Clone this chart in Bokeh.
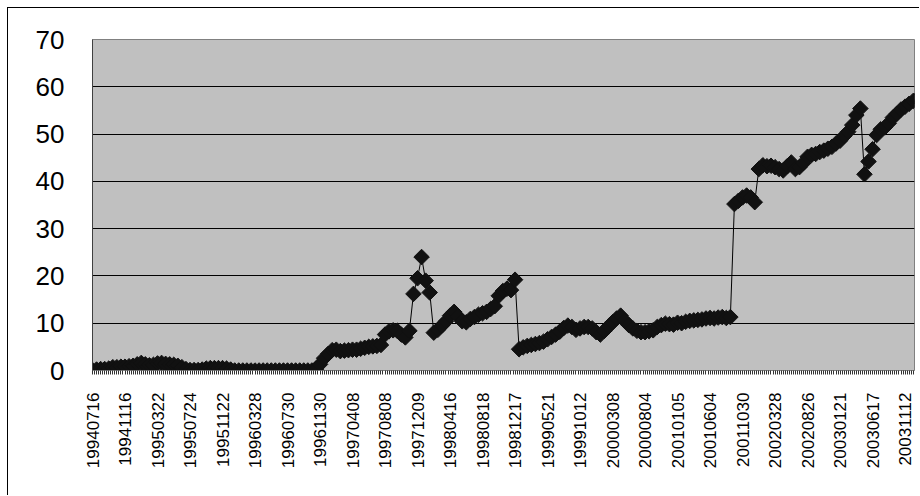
import numpy as np
from bokeh.plotting import figure
from bokeh.models import Range1d, FixedTicker, ColumnDataSource
from bokeh.embed import file_html
from bokeh.resources import INLINE

# Category labels shown on the x axis (one every label step)
date_labels = [
    "19940716", "19941116", "19950322", "19950724", "19951122", "19960328",
    "19960730", "19961130", "19970408", "19970808", "19971209", "19980416",
    "19980818", "19981217", "19990521", "19991012", "20000308", "20000804",
    "20010105", "20010604", "20011030", "20020328", "20020826", "20030121",
    "20030617", "20031112",
]

# Series values, 8 samples per label step
values = [
    0.1, 0.2, 0.3, 0.3, 0.4, 0.7, 0.7, 0.8, 0.8, 0.9,
    1.0, 1.3, 1.6, 1.3, 1.1, 1.2, 1.5, 1.6, 1.4, 1.3,
    1.2, 1.0, 0.7, 0.3, 0.1, 0.1, 0.1, 0.2, 0.4, 0.5,
    0.5, 0.5, 0.5, 0.4, 0.2, 0.0, 0.0, 0.0, 0.0, 0.0,
    0.0, 0.0, 0.0, 0.0, 0.0, 0.0, 0.0, 0.0, 0.0, 0.0,
    0.0, 0.0, 0.0, 0.0, 0.0, 0.3, 1.3, 2.6, 3.5, 4.3,
    4.4, 4.1, 4.2, 4.3, 4.4, 4.4, 4.6, 4.8, 5.0, 5.1,
    5.2, 5.4, 7.6, 8.3, 8.5, 8.4, 7.6, 7.0, 8.4, 16.2,
    19.5, 24.0, 19.0, 16.5, 8.0, 8.6, 9.5, 10.4, 11.6, 12.4,
    11.4, 10.4, 10.2, 10.9, 11.3, 11.8, 12.1, 12.4, 13.0, 13.6,
    15.8, 16.8, 17.3, 17.0, 19.2, 4.5, 4.9, 5.2, 5.4, 5.6,
    5.8, 6.1, 6.6, 7.1, 7.6, 8.2, 9.0, 9.5, 9.2, 8.6,
    8.9, 9.2, 9.2, 8.9, 8.1, 7.6, 8.4, 9.3, 10.2, 11.0,
    11.6, 10.5, 9.6, 8.9, 8.4, 8.1, 8.1, 8.3, 8.5, 9.2,
    9.6, 9.9, 9.8, 9.7, 10.1, 10.0, 10.3, 10.5, 10.6, 10.7,
    10.8, 11.0, 11.1, 11.0, 11.2, 11.3, 11.1, 11.3, 35.2, 35.9,
    36.6, 37.0, 36.6, 35.6, 42.6, 43.4, 43.2, 43.3, 43.0, 42.6,
    42.3, 43.2, 44.0, 42.6, 43.0, 43.9, 45.2, 45.6, 45.8, 46.2,
    46.5, 46.9, 47.3, 48.0, 48.6, 49.6, 50.5, 51.9, 54.0, 55.4,
    41.5, 44.2, 46.8, 49.8, 51.0, 51.4, 52.3, 53.5, 54.3, 55.2,
    55.8, 56.4, 57.0, 57.5,
]

y_ticks = [0, 10, 20, 30, 40, 50, 60, 70]

samples_per_label = 8
x = np.arange(len(values)) / samples_per_label
src = ColumnDataSource(data=dict(x=x, y=values))

p = figure(
    width=912, height=488,
    x_range=Range1d(0, 25.29), y_range=Range1d(0, 70),
    output_backend="svg", toolbar_location=None,
    min_border_left=84, min_border_right=6, min_border_top=31, min_border_bottom=126,
)
# Outer chart-area border (left and top edges visible in the window)
p.margin = (7, 0, 0, 7)
p.styles = {"border-left": "1px solid #000000", "border-top": "1px solid #000000"}

p.background_fill_color = "#C0C0C0"
p.border_fill_color = "white"
p.outline_line_color = "#808080"
p.outline_line_width = 1

# Series: thin line with large diamonds
p.line("x", "y", source=src, line_color="#000000", line_width=1)
p.scatter("x", "y", source=src, marker="square", size=11, angle=np.pi / 4,
          fill_color="#111111", line_color="#111111")

# Grid
p.xgrid.visible = False
p.ygrid.grid_line_color = "#000000"
p.ygrid.grid_line_width = 1

# Y axis
p.yaxis.ticker = FixedTicker(ticks=y_ticks)
p.yaxis.major_label_text_font = "Liberation Sans"
p.yaxis.major_label_text_font_size = "26px"
p.yaxis.major_label_text_color = "#000000"
p.yaxis.major_tick_out = 0
p.yaxis.major_tick_in = 0
p.yaxis.minor_tick_out = 0
p.yaxis.minor_tick_in = 0
p.yaxis.major_label_standoff = 28
p.yaxis.axis_line_color = "#404040"

# X axis: one tick per category step, labels on every label step
steps = 16
tick_pos = [k / steps for k in range(int(25.29 * steps) + 1)]
overrides = {t: "" for t in tick_pos}
for i, lab in enumerate(date_labels):
    overrides[float(i)] = lab
p.xaxis.ticker = FixedTicker(ticks=tick_pos, minor_ticks=[])
p.xaxis.major_label_overrides = overrides
p.xaxis.major_label_orientation = np.pi / 2
p.xaxis.major_label_text_font = "Liberation Sans"
p.xaxis.major_label_text_font_size = "17px"
p.xaxis.major_label_text_color = "#000000"
p.xaxis.major_label_standoff = 18
p.xaxis.major_tick_out = 4
p.xaxis.major_tick_in = 0
p.xaxis.major_tick_line_color = "#333333"
p.xaxis.minor_tick_out = 0
p.xaxis.minor_tick_in = 0
p.xaxis.axis_line_color = "#808080"

open("out.html", "w").write(file_html(p, INLINE))
